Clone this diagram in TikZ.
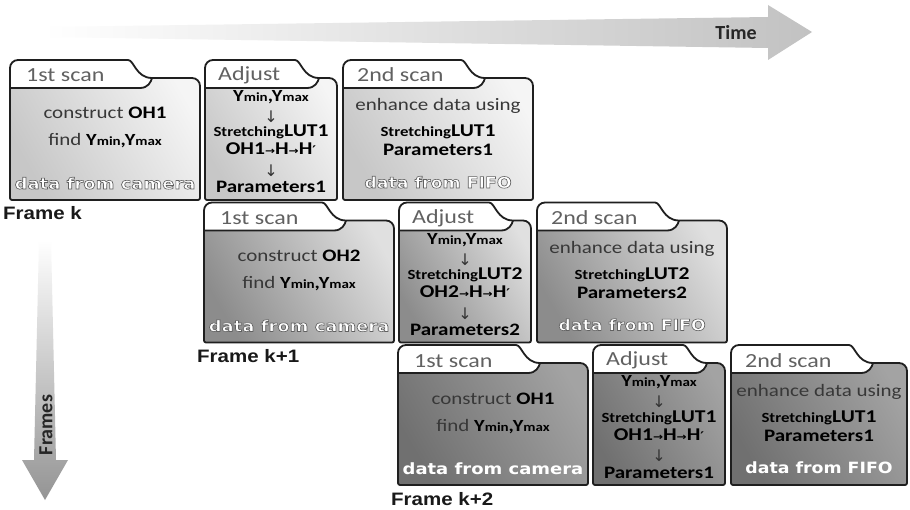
\documentclass[tikz,border=0pt]{standalone}
\usepackage{fontspec}
\setmainfont{Carlito}
\newfontfamily\arialf{Liberation Sans}
\newfontfamily\dvs{DejaVu Sans}
\usepackage{graphicx}
\newcommand\fs[1]{\fontsize{#1}{#1}\selectfont}
\newcommand\wx[1]{\scalebox{1.2}[1]{#1}}
\newcommand\myYY{{\color{black}\bfseries\fs{17}Y{\fs{12.5}min},Y{\fs{12.5}max}}}
\newcommand\mySL[1]{{\bfseries{\fs{14}Stretching}{\fs{18}LUT#1}}}
\newcommand\myOH[1]{{\bfseries\fs{18}OH#1{\dvs\fs{10}→}H{\dvs\fs{10}→}H{\dvs\fs{12}′}}}
\newcommand\myPP[1]{{\bfseries\fs{17.5}Parameters#1}}
\newcommand\mydn{{\dvs\fs{16}↓}}
\newcommand\outl[1]{\special{pdf:literal direct 2 Tr 0.6 w 0.38 G}#1\special{pdf:literal direct 0 Tr}}
\newcommand\mycam[2]{\ifnum#1<2 \outl{#2}\else #2\fi}
\newcommand\folder[4]{%
  \shade[#4] (#1,140) [rounded corners=8pt] -- (#1,0) -- (#1+#3,0) [sharp corners] .. controls (#1+#3+14,0) and (#1+#3+16,18) .. (#1+#3+32,18) [rounded corners=8pt] -- (#1+#2,18) [rounded corners=2pt] -- (#1+#2,140) -- cycle;
  \fill[white] (#1,28) [rounded corners=8pt] -- (#1,0) -- (#1+#3,0) [sharp corners] .. controls (#1+#3+14,0) and (#1+#3+16,18) .. (#1+#3+32,18) .. controls (#1+#3+31,22) and (#1+#3+28,28) .. (#1+#3+20,28) -- cycle;
  \draw[boxline] (#1,28) -- (#1+#3+20,28) .. controls (#1+#3+28,28) and (#1+#3+31,22) .. (#1+#3+32,18);
  \draw[boxline] (#1,140) [rounded corners=8pt] -- (#1,0) -- (#1+#3,0) [sharp corners] .. controls (#1+#3+14,0) and (#1+#3+16,18) .. (#1+#3+32,18) [rounded corners=8pt] -- (#1+#2,18) [rounded corners=2pt] -- (#1+#2,140) -- cycle;
}
\begin{document}
\begin{tikzpicture}[x=1pt,y=-1pt,
  boxline/.style={line width=1.8pt, draw=black!88, line join=round},
  tabtext/.style={anchor=base west, inner sep=0pt, text=black!62, font=\fs{20}},
  reg/.style={anchor=base, inner sep=0pt, text=black!78, font=\fs{17.5}},
  regb/.style={anchor=base, inner sep=0pt, text=black},
  arr/.style={inner sep=0pt, text=black!80},
  camt/.style={anchor=base, inner sep=0pt, text=white, font=\dvs\bfseries\fs{15.5}},
  framel/.style={anchor=base west, inner sep=0pt, text=black!90, font=\arialf\bfseries\fs{18}},
  rowA/.style={left color=black!22, right color=black!4, shading angle=120},
  rowB/.style={left color=black!45, right color=black!12, shading angle=120},
  rowC/.style={left color=black!56, right color=black!36, shading angle=120}]
\useasboundingbox (0,0) rectangle (910,510);
\fill[white] (0,0) rectangle (910,510);
% Time arrow
\shade[left color=white, right color=black!24] (43,27) -- (768,17) -- (768,5) -- (812,32) -- (768,60) -- (768,48) -- (43,37) -- cycle;
\node[font=\bfseries\fs{20}, text=black!85] (time) at (736,33) {Time};
% Frames arrow
\shade[top color=white, bottom color=black!42] (39,240) -- (51,240) -- (56,460) -- (68,460) -- (45,500) -- (22,460) -- (34,460) -- cycle;
\node[rotate=90, font=\bfseries\fs{20}, text=black!85] (frames) at (46,425) {Frames};
% rows
\foreach \r/\k/\sty/\lastw/\fr in {0/1/rowA/190/k, 1/2/rowB/190/k+1, 2/1/rowC/176/k+2} {
  \pgfmathsetmacro\X{194*\r}
  \pgfmathsetmacro\Y{60+142.5*\r}
  \pgfmathsetmacro\cx{343+\lastw/2}
  \begin{scope}[shift={(\X,\Y)}]
    % 1st scan
    \folder{10}{190}{110}{\sty}
    \node[tabtext] (ta-\r) at (26,22) {\wx{1st scan}};
    \node[reg] (ca-\r) at (105,59) {\wx{construct {\color{black}\bfseries OH\k}}};
    \node[reg] (fa-\r) at (105,86) {\wx{find \myYY}};
    \node[camt] (da-\r) at (105,129) {\scalebox{1.16}[1]{\mycam{\r}{data from camera}}};
    % Adjust
    \folder{205}{132}{82}{\sty}
    \node[tabtext] (tb-\r) at (218,21) {\wx{Adjust}};
    \node[regb] (yb-\r) at (271,42) {\wx{\myYY}};
    \node[arr] (ab-\r) at (271,57) {\mydn};
    \node[regb] (sb-\r) at (271,77) {\wx{\mySL{\k}}};
    \node[regb] (ob-\r) at (271,95) {\wx{\myOH{\k}}};
    \node[arr] (bb-\r) at (271,111) {\mydn};
    \node[regb] (pb-\r) at (271,133) {\wx{\myPP{\k}}};
    % 2nd scan
    \folder{343}{\lastw}{110}{\sty}
    \node[tabtext] (tc-\r) at (357,22) {\wx{2nd scan}};
    \node[reg] (ec-\r) at (\cx,51) {\wx{enhance data using}};
    \node[regb] (sc-\r) at (\cx,77) {\wx{\mySL{\k}}};
    \node[regb] (pc-\r) at (\cx,96) {\wx{\myPP{\k}}};
    \node[camt] (dc-\r) at (\cx,128) {\scalebox{1.12}[1]{\mycam{\r}{data from FIFO}}};
    % frame label
    \node[framel] (fr-\r) at (3,160) {\scalebox{1.14}[1]{Frame \fr}};
  \end{scope}
}
\end{tikzpicture}
\end{document}
